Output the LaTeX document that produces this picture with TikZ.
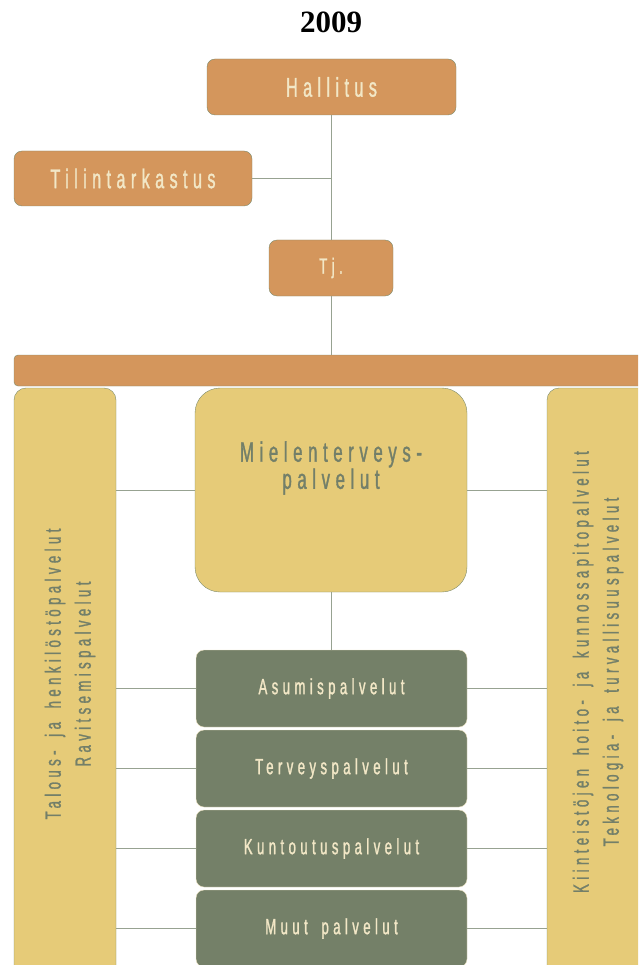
\documentclass[tikz,border=0pt]{standalone}
\usepackage{fontspec}
\setmainfont{Liberation Serif}
\newfontfamily\orgfont[LetterSpace=20,FakeStretch=0.6,FakeBold=1.2,WordSpace=1.7]{Liberation Sans}
\usepackage{xcolor}
\usepackage{tikz}

\definecolor{orgorange}{HTML}{D4965C}
\definecolor{orgyellow}{HTML}{E6CB78}
\definecolor{orggreen}{HTML}{748068}
\definecolor{orgedge}{HTML}{7D8C6E}
\definecolor{orgline}{HTML}{97A291}
\definecolor{orgcream}{HTML}{F2E7C6}
\definecolor{orgtext}{HTML}{737F69}

\begin{document}
\begin{tikzpicture}[x=1pt, y=-1pt,
  board/.style={draw=orgedge, fill=orgorange, rounded corners=8pt, inner sep=0pt, text=orgcream},
  unit/.style={draw=orgedge, fill=orgyellow, inner sep=0pt},
  service/.style={draw=orgcream, fill=orggreen, rounded corners=8pt, inner sep=0pt, minimum width=271pt, minimum height=77pt, text=orgcream, font=\orgfont\fontsize{22}{26}\selectfont},
  coltext/.style={rotate=90, align=center, text=orgtext, font=\orgfont\fontsize{22}{30}\selectfont},
  link/.style={draw=orgline, line width=1pt}]
  \useasboundingbox (0,0) rectangle (638,965);
  \clip (0,0) rectangle (638,965);

  \node (year) at (331,22) {\fontsize{31}{34}\selectfont\bfseries 2009};

  % top of the organisation
  \node (hallitus) at (331.5,87) [board, minimum width=249pt, minimum height=56pt, font=\orgfont\fontsize{27}{30}\selectfont] {Hallitus};
  \node (tilintarkastus) at (133,178.5) [board, minimum width=238pt, minimum height=55pt, font=\orgfont\fontsize{27}{30}\selectfont] {Tilintarkastus};
  \node (tj) at (331,268) [board, minimum width=124pt, minimum height=56pt, font=\orgfont\fontsize{22}{24}\selectfont] {Tj.};
  \node (bar) at (337,370.5) [board, rounded corners=4pt, minimum width=646pt, minimum height=31pt] {};

  % units
  \node (leftcol) at (65,694) [unit, rounded corners=12pt, minimum width=102pt, minimum height=612pt] {};
  \node (rightcol) at (603.5,694) [unit, rounded corners=12pt, minimum width=113pt, minimum height=612pt] {};
  \node (lefttext) at (70,674) [coltext] {Talous- ja henkilöstöpalvelut\\Ravitsemispalvelut};
  \node (righttext) at (598,672) [coltext] {Kiinteistöjen hoito- ja kunnossapitopalvelut\\Teknologia- ja turvallisuuspalvelut};
  \node (mielen) at (331,490) [unit, rounded corners=25pt, minimum width=272pt, minimum height=204pt] {};
  \node (mielentext) at (331,468) [align=center, text=orgtext, font=\orgfont\fontsize{28}{24}\selectfont] {Mielenterveys-\\palvelut};

  % services
  \node (asumis) at (331.5,688.5) [service] {Asumispalvelut};
  \node (terveys) at (331.5,768.5) [service] {Terveyspalvelut};
  \node (kuntoutus) at (331.5,848.5) [service] {Kuntoutuspalvelut};
  \node (muut) at (331.5,928.5) [service] {Muut palvelut};

  \draw[link] (hallitus.south) -- (hallitus.south |- tj.north);
  \draw[link] (tilintarkastus.east) -- (tilintarkastus.east -| hallitus.south);
  \draw[link] (tj.south) -- (tj.south |- bar.north);
  \draw[link] (leftcol.east |- mielen) -- (mielen.west);
  \draw[link] (mielen.east) -- (mielen.east -| rightcol.west);
  \draw[link] (mielen.south) -- (mielen.south |- asumis.north);
  \foreach \s in {asumis,terveys,kuntoutus,muut} {
    \draw[link] (leftcol.east |- \s) -- (\s.west);
    \draw[link] (\s.east) -- (\s.east -| rightcol.west);
  }
\end{tikzpicture}
\end{document}
